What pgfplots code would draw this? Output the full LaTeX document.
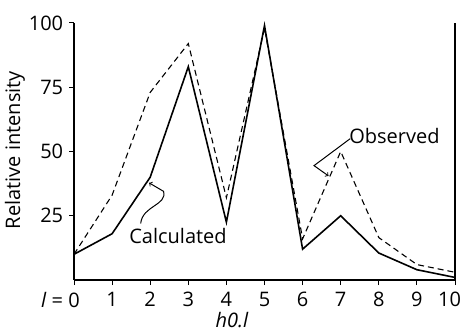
\documentclass[border=0pt]{standalone}
\usepackage{fontspec}
\setmainfont{Open Sans}
\usepackage{pgfplots}
\pgfplotsset{compat=1.18}
\begin{document}
\fontsize{20bp}{22bp}\selectfont
\begin{tikzpicture}
\useasboundingbox (0,0) rectangle (464bp,332bp);
\begin{axis}[
 at={(74bp,52bp)}, anchor=origin,
 scale only axis, width=381bp, height=257bp,
 xmin=0, xmax=10, ymin=0, ymax=100,
 axis x line=bottom, axis y line=left,
 axis line style={-, line width=1.4pt},
 xtick={0,1,2,3,4,5,6,7,8,9,10},
 xticklabels={\llap{\textit{l} = }0,1,2,3,4,5,6,7,8,9,\makebox[12bp][r]{10}},
 ytick={25,50,75,100},
 tick align=outside, major tick length=5bp,
 tick style={line width=1pt, black},
 /pgf/number format/assume math mode=true,
 yticklabel style={xshift=1bp},
 clip=false,
]
\addplot[black, line width=1.6pt, mark=none] coordinates {
 (0,10) (1,18) (2,40) (3,83) (4,22.5) (5,99) (6,12) (7,25) (8,10.5) (9,4) (10,1)};
\addplot[black, line width=1.1pt, dash pattern=on 6pt off 4pt, mark=none] coordinates {
 (0,10) (1,33) (2,73) (3,92) (4,32) (5,98) (6,16) (7,50) (8,16.5) (9,6) (10,3)};
\draw[line width=1.4pt] (axis cs:10,0) -- (axis cs:10,100);
\node[anchor=west, inner sep=0pt] at (axis cs:7.22,56) {Observed};
\draw[line width=1pt, ->] (axis cs:7.25,55) -- (axis cs:6.3,44.5) -- (axis cs:6.68,40.5);
\node[inner sep=0pt] at (axis cs:2.73,17) {Calculated};
\draw[line width=1pt, ->] (axis cs:1.75,22) .. controls (axis cs:1.8,29) and (axis cs:2.45,29) .. (axis cs:2.35,34.5) -- (axis cs:1.97,37.8);
\node[xshift=-59bp, rotate=90] at (axis cs:0,50.5) {Relative intensity};
\node[yshift=-40bp] at (axis cs:4.15,0) {\textit{h0.l}};
\end{axis}
\end{tikzpicture}
\end{document}
